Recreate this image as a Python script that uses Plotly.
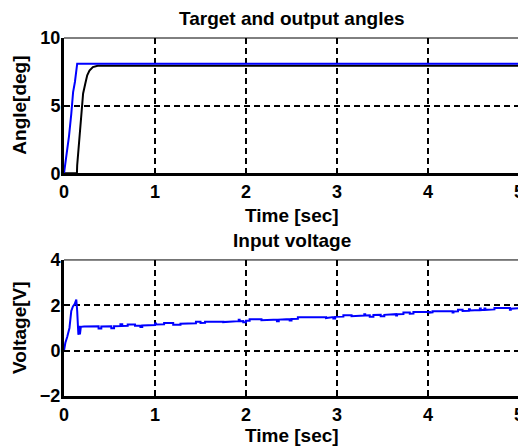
import plotly.graph_objects as go

# ---- data ----
t_target = [0.000, 0.008, 0.033, 0.055, 0.080, 0.100, 0.120, 0.138, 0.145, 5.000]
target = [0.00, 0.37, 1.47, 2.75, 4.40, 6.00, 6.75, 7.50, 8.10, 8.10]

t_output = [0.000, 0.142, 0.145, 0.168, 0.190, 0.210, 0.233, 0.255, 0.280, 0.317, 0.370, 0.500, 5.000]
output = [0.00, 0.00, 0.60, 2.70, 4.40, 5.90, 6.60, 7.25, 7.60, 7.85, 7.95, 7.95, 7.95]

t_volt = [0.000, 0.015, 0.035, 0.060, 0.080, 0.098, 0.117, 0.135, 0.145, 0.158, 0.170, 0.175, 0.185, 0.220,
          0.380, 0.380, 0.410, 0.410,
          0.520, 0.520, 0.550, 0.550,
          0.620, 0.620, 0.640, 0.640,
          0.700, 0.700, 0.780, 0.780,
          0.840, 0.840, 0.860, 0.860,
          1.000, 1.000, 1.010, 1.010,
          1.100, 1.100, 1.200, 1.200, 1.280, 1.280,
          1.450, 1.450, 1.500, 1.500,
          1.550, 1.550, 1.750, 1.750,
          1.920, 1.920, 1.930, 1.930,
          1.970, 1.970, 2.000, 2.000,
          2.040, 2.040, 2.170, 2.170,
          2.300, 2.340, 2.340, 2.360, 2.360,
          2.480, 2.480, 2.500, 2.500,
          2.570, 2.570, 2.880, 2.880,
          2.960, 2.960, 2.980, 2.980,
          3.070, 3.070, 3.160, 3.160,
          3.300, 3.300, 3.310, 3.310,
          3.360, 3.360, 3.400, 3.400,
          3.480, 3.480, 3.520, 3.520,
          3.650, 3.650, 3.660, 3.660,
          3.730, 3.730, 3.800, 3.800,
          3.840, 3.840, 4.020, 4.020,
          4.050, 4.050, 4.270, 4.270, 4.280, 4.280,
          4.330, 4.330, 4.380, 4.380,
          4.450, 4.450, 4.460, 4.460,
          4.570, 4.570, 4.580, 4.580,
          4.620, 4.620, 4.630, 4.630,
          4.730, 4.730, 4.900, 4.900, 4.910, 4.910,
          5.000]
voltage = [0.00, 0.35, 0.60, 1.00, 1.75, 1.95, 2.05, 2.25, 1.75, 0.70, 1.10, 0.72, 1.05, 1.06,
           1.07, 0.98, 0.98, 1.07,
           1.08, 0.99, 0.99, 1.08,
           1.09, 1.16, 1.16, 1.09,
           1.10, 1.15, 1.15, 1.10,
           1.11, 1.04, 1.04, 1.11,
           1.13, 1.20, 1.20, 1.15,
           1.16, 1.22, 1.22, 1.14, 1.14, 1.19,
           1.21, 1.27, 1.27, 1.22,
           1.23, 1.28, 1.28, 1.26,
           1.30, 1.36, 1.36, 1.30,
           1.31, 1.25, 1.25, 1.32,
           1.32, 1.38, 1.38, 1.34,
           1.36, 1.36, 1.30, 1.30, 1.37,
           1.39, 1.33, 1.33, 1.40,
           1.41, 1.47, 1.47, 1.44,
           1.48, 1.42, 1.42, 1.49,
           1.50, 1.56, 1.56, 1.52,
           1.55, 1.61, 1.61, 1.55,
           1.56, 1.50, 1.50, 1.57,
           1.58, 1.52, 1.52, 1.58,
           1.61, 1.55, 1.55, 1.61,
           1.62, 1.68, 1.68, 1.63,
           1.64, 1.70, 1.70, 1.68,
           1.69, 1.74, 1.74, 1.68, 1.68, 1.73,
           1.74, 1.80, 1.80, 1.75,
           1.76, 1.83, 1.83, 1.77,
           1.79, 1.86, 1.86, 1.79,
           1.80, 1.86, 1.86, 1.80,
           1.82, 1.88, 1.88, 1.80, 1.80, 1.85,
           1.87]

x_ticks = [0, 1, 2, 3, 4, 5]
y1_ticks = [0, 5, 10]
y2_ticks = [-2, 0, 2, 4]

FONT = "Liberation Sans"

fig = go.Figure()
fig.add_trace(go.Scatter(x=t_output, y=output, mode="lines",
                         line=dict(color="black", width=2), xaxis="x", yaxis="y", showlegend=False))
fig.add_trace(go.Scatter(x=t_target, y=target, mode="lines",
                         line=dict(color="#0000ff", width=2), xaxis="x", yaxis="y", showlegend=False))
fig.add_trace(go.Scatter(x=t_volt, y=voltage, mode="lines",
                         line=dict(color="#0000ff", width=2), xaxis="x2", yaxis="y2", showlegend=False))

axis_common = dict(showline=True, linecolor="black", linewidth=3, mirror=False,
                   ticks="inside", ticklen=5, tickwidth=2, tickcolor="black",
                   showgrid=True, gridcolor="black", gridwidth=1.5, griddash="6px,4px",
                   zeroline=False,
                   tickfont=dict(family=FONT, size=18, color="black", weight="bold"))

# page has an 8px body margin: figure is shifted by 8px right and down
fig.update_layout(
    width=518, height=438,
    margin=dict(l=56, r=2, t=30, b=50),
    paper_bgcolor="white", plot_bgcolor="white",
    xaxis=dict(domain=[0, 1], range=[0, 5], tickvals=x_ticks, anchor="y",
               ticklabeloverflow="allow", **axis_common),
    yaxis=dict(domain=[0.622, 1.0], range=[0, 10], tickvals=y1_ticks, anchor="x",
               ticklabelstandoff=-3, **axis_common),
    xaxis2=dict(domain=[0, 1], range=[0, 5], tickvals=x_ticks, anchor="y2",
                ticklabeloverflow="allow", **axis_common),
    yaxis2=dict(domain=[0, 0.38], range=[-2, 4], tickvals=y2_ticks, anchor="x2",
                ticklabelstandoff=-3, **axis_common),
)

# thin top/right borders
for xr, yr in (("x domain", "y domain"), ("x2 domain", "y2 domain")):
    fig.add_shape(type="line", xref=xr, yref=yr, x0=0, x1=1, y0=1, y1=1,
                  line=dict(color="black", width=1))
    fig.add_shape(type="line", xref=xr, yref=yr, x0=1, x1=1, y0=0, y1=1,
                  line=dict(color="black", width=1))

tfont = dict(family=FONT, size=19, color="black", weight="bold")
ann = [
    dict(text="Target and output angles", x=0.5, y=1.0, yshift=19.5, xref="paper", yref="paper"),
    dict(text="Input voltage", x=0.5, y=0.38, yshift=19, xref="paper", yref="paper"),
    dict(text="Time [sec]", x=0.5, y=0.622, yshift=-42, xref="paper", yref="paper"),
    dict(text="Time [sec]", x=0.5, y=0.0, yshift=-39, xref="paper", yref="paper"),
]
for a in ann:
    fig.add_annotation(showarrow=False, font=tfont, xanchor="center", yanchor="middle", **a)

fig.add_annotation(text="Angle[deg]", x=0, y=0.811, xref="paper", yref="paper", xshift=-44,
                   textangle=-90, showarrow=False, font=tfont, xanchor="center", yanchor="middle")
fig.add_annotation(text="Voltage[V]", x=0, y=0.19, xref="paper", yref="paper", xshift=-44,
                   textangle=-90, showarrow=False, font=tfont, xanchor="center", yanchor="middle")

fig.write_html("out.html")
